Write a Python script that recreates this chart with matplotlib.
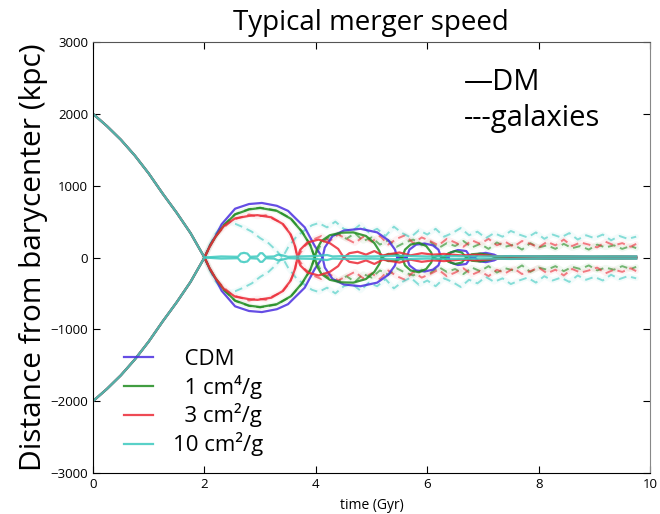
import numpy as np
import matplotlib.pyplot as plt

plt.rcParams['font.family'] = ['Open Sans', 'DejaVu Sans']

# infall (shared by all runs), upper branch; lower branch is its mirror
t_infall = [0, 0.25, 0.5, 0.75, 1.0, 1.25, 1.5, 1.75, 2.0]
r_infall = [2000, 1830, 1640, 1420, 1170, 890, 625, 340, 0]

# dark matter, after first pericentre
t_cdm = [2.0, 2.1, 2.2, 2.31, 2.55, 2.8, 3.03, 3.3, 3.5, 3.8, 3.98, 4.12,
         4.16, 4.3, 4.5, 4.8, 5.1, 5.3, 5.42, 5.46, 5.55, 5.63,
         5.68, 5.8, 5.95, 6.1, 6.2, 6.25, 6.32, 6.38,
         6.42, 6.55, 6.7, 6.78, 6.85, 6.92, 7.05, 7.2, 7.3,
         7.4, 7.6, 8.0, 8.5, 9.0, 9.5, 9.75]
r_cdm = [0, 170, 300, 465, 680, 745, 760, 720, 650, 420, 160, 0,
         140, 300, 375, 400, 350, 240, 110, 0, 20, 0,
         110, 180, 195, 170, 110, 0, 15, 0,
         70, 105, 90, 0, 0, 50, 65, 40, 0,
         10, 15, 10, 12, 8, 10, 10]

t_1 = [2.0, 2.1, 2.2, 2.35, 2.55, 2.8, 3.0, 3.3, 3.55, 3.75, 3.9, 3.98,
       4.02, 4.1, 4.25, 4.45, 4.67, 4.9, 5.05, 5.14, 5.18,
       5.3, 5.45, 5.55, 5.6, 5.7, 5.85, 5.98, 6.07, 6.1,
       6.2, 6.3, 6.38, 6.5, 6.62, 6.7, 6.8, 6.95, 7.1, 7.25,
       7.4, 7.7, 8.2, 8.8, 9.3, 9.75]
r_1 = [0, 165, 290, 450, 600, 670, 690, 650, 540, 360, 170, 0,
       120, 230, 310, 345, 350, 300, 200, 90, 0,
       50, 45, 0, 110, 180, 205, 160, 70, 0,
       30, 0, 60, 90, 70, 0, 45, 55, 35, 0,
       15, 10, 15, 10, 12, 10]

t_3 = [2.0, 2.1, 2.2, 2.35, 2.55, 2.8, 2.95, 3.2, 3.4, 3.55, 3.63, 3.67,
       3.72, 3.85, 4.05, 4.25, 4.4, 4.5, 4.6, 4.75, 4.9, 5.05, 5.2,
       5.35, 5.5, 5.7, 5.9, 6.1, 6.3, 6.6, 6.9, 7.2, 7.6, 8.0, 8.5, 9.0, 9.5, 9.75]
r_3 = [0, 160, 290, 440, 545, 580, 590, 560, 470, 320, 150, 0,
       110, 210, 250, 200, 120, 0, 60, 80, 40, 90, 30,
       50, 70, 30, 60, 40, 50, 30, 40, 20, 15, 10, 12, 10, 12, 10]

t_10 = [2.0, 2.3, 2.6, 2.65, 2.71, 2.77, 2.82, 2.95, 3.0, 3.04, 3.1, 3.25, 3.32,
        3.4, 3.5, 3.7, 4.0, 4.2, 4.3, 4.5, 5.0, 5.5, 6.0, 6.5, 7.0, 7.5, 8.0,
        8.5, 9.0, 9.5, 9.75]
r_10 = [0, 15, 10, 55, 65, 55, 10, 15, 60, 60, 10, 15, 40,
        30, 10, 15, 20, 35, 15, 20, 15, 25, 15, 20, 15, 20, 15,
        15, 15, 15, 15]

# galaxies (dashed)
tg_1 = [2.0, 2.1, 2.2, 2.35, 2.55, 2.8, 3.0, 3.3, 3.55, 3.75, 3.9, 3.98,
        4.1, 4.25, 4.4, 4.55, 4.7, 4.85, 5.0, 5.15, 5.3, 5.45, 5.6, 5.75, 5.9,
        6.05, 6.2, 6.35, 6.5, 6.65, 6.8, 6.95, 7.1, 7.25, 7.4, 7.55, 7.7, 7.85,
        8.0, 8.15, 8.3, 8.45, 8.6, 8.75, 8.9, 9.05, 9.2, 9.35, 9.5, 9.65, 9.75]
rg_1 = [0, 170, 295, 455, 605, 675, 695, 655, 545, 365, 175, 0,
        200, 290, 330, 260, 340, 230, 280, 180, 240, 150, 210, 250, 170,
        220, 130, 200, 160, 230, 140, 190, 120, 210, 150, 180, 110, 200,
        140, 170, 120, 190, 130, 160, 110, 180, 140, 170, 120, 160, 130]

tg_3 = [2.0, 2.1, 2.2, 2.35, 2.5, 2.65, 2.8, 2.95, 3.1, 3.25, 3.4, 3.5, 3.6, 3.67,
        3.8, 3.95, 4.1, 4.25, 4.4, 4.55, 4.7, 4.85, 5.0, 5.15, 5.3, 5.45, 5.6,
        5.75, 5.9, 6.05, 6.2, 6.35, 6.5, 6.65, 6.8, 6.95, 7.1, 7.25, 7.4, 7.55,
        7.7, 7.85, 8.0, 8.15, 8.3, 8.45, 8.6, 8.75, 8.9, 9.05, 9.2, 9.35, 9.5,
        9.65, 9.75]
rg_3 = [0, 150, 300, 420, 520, 560, 600, 570, 590, 530, 480, 380, 230, 0,
        160, 250, 300, 230, 320, 260, 200, 290, 220, 300, 180, 260, 310,
        200, 280, 230, 170, 260, 210, 150, 240, 190, 260, 170, 220, 150,
        230, 190, 140, 220, 170, 250, 160, 210, 180, 140, 220, 170, 200,
        150, 190]

tg_10 = [2.0, 2.1, 2.2, 2.3, 2.42, 2.55, 2.7, 2.85, 3.0, 3.15, 3.3, 3.4, 3.5,
         3.65, 3.8, 3.93, 4.05, 4.2, 4.35, 4.5, 4.65, 4.8, 4.95, 5.1, 5.25,
         5.4, 5.55, 5.7, 5.85, 6.0, 6.15, 6.3, 6.45, 6.6, 6.75, 6.9, 7.05,
         7.2, 7.35, 7.5, 7.65, 7.8, 7.95, 8.1, 8.25, 8.4, 8.55, 8.7, 8.85,
         9.0, 9.15, 9.3, 9.45, 9.6, 9.75]
rg_10 = [0, 180, 330, 430, 490, 470, 420, 360, 270, 200, 90, 0, 140,
         290, 380, 450, 480, 420, 500, 400, 370, 460, 350, 400, 300,
         430, 340, 280, 380, 320, 400, 290, 340, 410, 310, 360, 270,
         340, 290, 370, 320, 280, 350, 260, 320, 280, 340, 250, 310,
         270, 320, 240, 300, 260, 290]

labels = ['  CDM', '  1 cm\u2074/g', '  3 cm\u00b2/g', '10 cm\u00b2/g']
colors = ['#4a2ee0', '#1f8c1f', '#ec2a36', '#3cc9bf']

dm = [(t_cdm, r_cdm), (t_1, r_1), (t_3, r_3), (t_10, r_10)]
gal = [None, (tg_1, rg_1), (tg_3, rg_3), (tg_10, rg_10)]

fig = plt.figure(figsize=(6.6, 5.14), dpi=100)
ax = fig.add_axes([0.141, 0.080, 0.844, 0.838])

# galaxies first, faded
for g, c in zip(gal, colors):
    if g is None:
        continue
    t = np.array(g[0])
    r = np.array(g[1])
    for s in (1, -1):
        ax.plot(t, s * r, color=c, lw=4, alpha=0.06, solid_capstyle='round')
        ax.plot(t, s * r, color=c, lw=1.4, ls='--', dashes=(4, 2.5), alpha=0.6)

handles = []
for (t, r), c, lab in zip(dm, colors, labels):
    t = np.concatenate([t_infall, t[1:]])
    r = np.concatenate([r_infall, r[1:]])
    h, = ax.plot(t, r, color=c, lw=1.6, alpha=0.85, label=lab)
    ax.plot(t, -r, color=c, lw=1.6, alpha=0.85)
    handles.append(h)

ax.set_xlim(0, 10)
ax.set_ylim(-3000, 3000)
ax.set_xticks([0, 2, 4, 6, 8, 10])
ax.set_yticks(range(-3000, 3001, 1000))
ax.tick_params(direction='in', top=True, right=True, length=5, labelsize=9.5)
ax.spines['right'].set_color('#888888')
ax.spines['top'].set_color('#555555')
ax.set_xlabel('time (Gyr)', fontsize=10, labelpad=5)
ax.set_ylabel('Distance from barycenter (kpc)', fontsize=21.5, labelpad=2)

leg = ax.legend(handles=handles, loc='lower left', frameon=False, fontsize=16,
                handlelength=1.3, handletextpad=0.9, labelspacing=0.22,
                bbox_to_anchor=(0.019, -0.008))

ax.text(0.665, 0.89, '\u2014DM', transform=ax.transAxes, fontsize=21)
ax.text(0.665, 0.805, '---galaxies', transform=ax.transAxes, fontsize=21)

fig.text(0.562, 0.955, 'Typical merger speed', ha='center', va='center', fontsize=20)

fig.savefig('out.png', dpi=100)
